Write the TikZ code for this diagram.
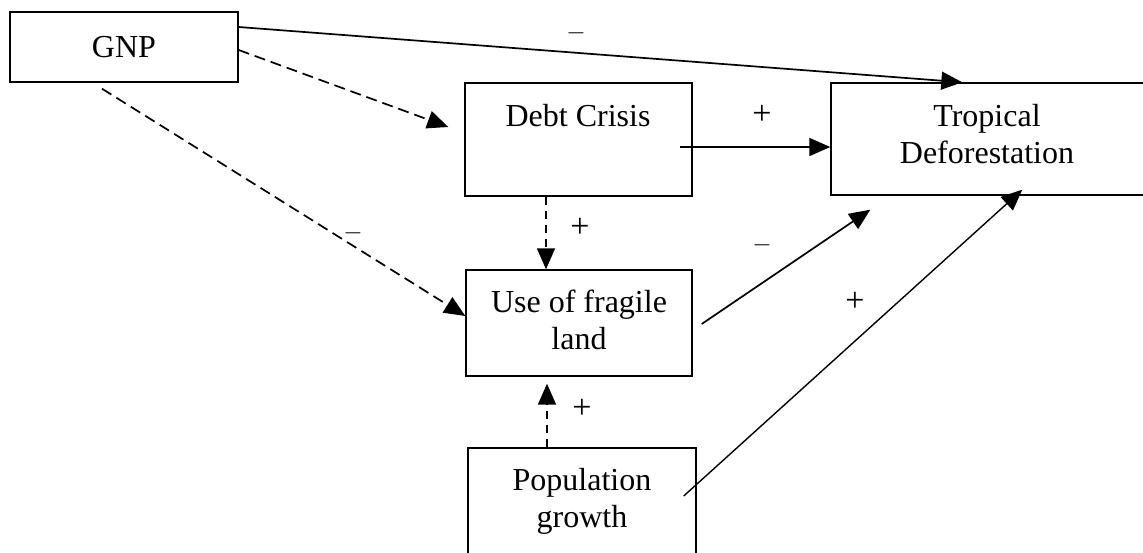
\documentclass[tikz,border=0pt]{standalone}
\usepackage{fontspec}
\setmainfont{Liberation Serif}
\usetikzlibrary{arrows.meta}
\tikzset{
  box/.style={draw, line width=1.4pt, rectangle, inner sep=0pt},
  txt/.style={font=\fontsize{32}{37}\selectfont, align=center, inner sep=0pt},
  sgn/.style={font=\fontsize{34}{34}\selectfont, inner sep=0pt},
  link/.style={line width=1.7pt, -{Triangle[length=21pt,width=18pt]}},
  dlink/.style={link, dash pattern=on 11pt off 6pt},
  vlink/.style={link, dash pattern=on 8pt off 6pt},
}
\begin{document}
\begin{tikzpicture}[x=1pt,y=-1pt]
\useasboundingbox (0,0) rectangle (1143,553);
% boxes
\node[box, minimum width=228pt, minimum height=70pt] (gnp) at (124,47) {};
\node[txt] (gnpT) at (124,47) {GNP};
\node[box, minimum width=227pt, minimum height=113pt] (debt) at (578.5,139.5) {};
\node[txt] (debtT) at (578,116) {Debt Crisis};
\node[box, minimum width=226pt, minimum height=106pt] (use) at (579,323) {};
\node[txt] (useT) at (579,320) {Use of fragile\\land};
\node[box, minimum width=314pt, minimum height=112pt] (trop) at (988,139) {};
\node[txt] (tropT) at (987,134) {Tropical\\Deforestation};
\node[box, minimum width=228pt, minimum height=110pt] (pop) at (582,503) {};
\node[txt] (popT) at (582,501) {Population\\growth};
% connectors
\draw[link] ([yshift=20pt]gnp.east) -- ([xshift=132pt]trop.north west);
\draw[dlink] ([yshift=-3pt]gnp.east) -- ([xshift=-16pt,yshift=12.5pt]debt.west);
\draw[dlink] ([xshift=-22pt,yshift=-6pt]gnp.south) -- ([yshift=7pt]use.west);
\draw[link] ([xshift=-13pt,yshift=-7.5pt]debt.east) -- ([yshift=-8pt]trop.west);
\draw[vlink] ([xshift=-32.5pt]debt.south) -- ([xshift=-33pt]use.north);
\draw[link] ([xshift=9pt,yshift=-1pt]use.east) -- ([xshift=40pt,yshift=-14pt]trop.south west);
\draw[link, line width=1.4pt] ([xshift=-13pt,yshift=7pt]pop.east) -- ([xshift=192pt,yshift=6pt]trop.south west);
\draw[vlink] ([xshift=-35pt]pop.north) -- ([xshift=-32pt,yshift=-7pt]use.south);
% signs
\node[sgn] (s1) at (576,33) {$-$};
\node[sgn] (s2) at (762,115) {+};
\node[sgn] (s3) at (580,228) {+};
\node[sgn] (s4) at (353,233) {$-$};
\node[sgn] (s5) at (762,245) {$-$};
\node[sgn] (s6) at (855,302) {+};
\node[sgn] (s7) at (582,409) {+};
\end{tikzpicture}
\end{document}
